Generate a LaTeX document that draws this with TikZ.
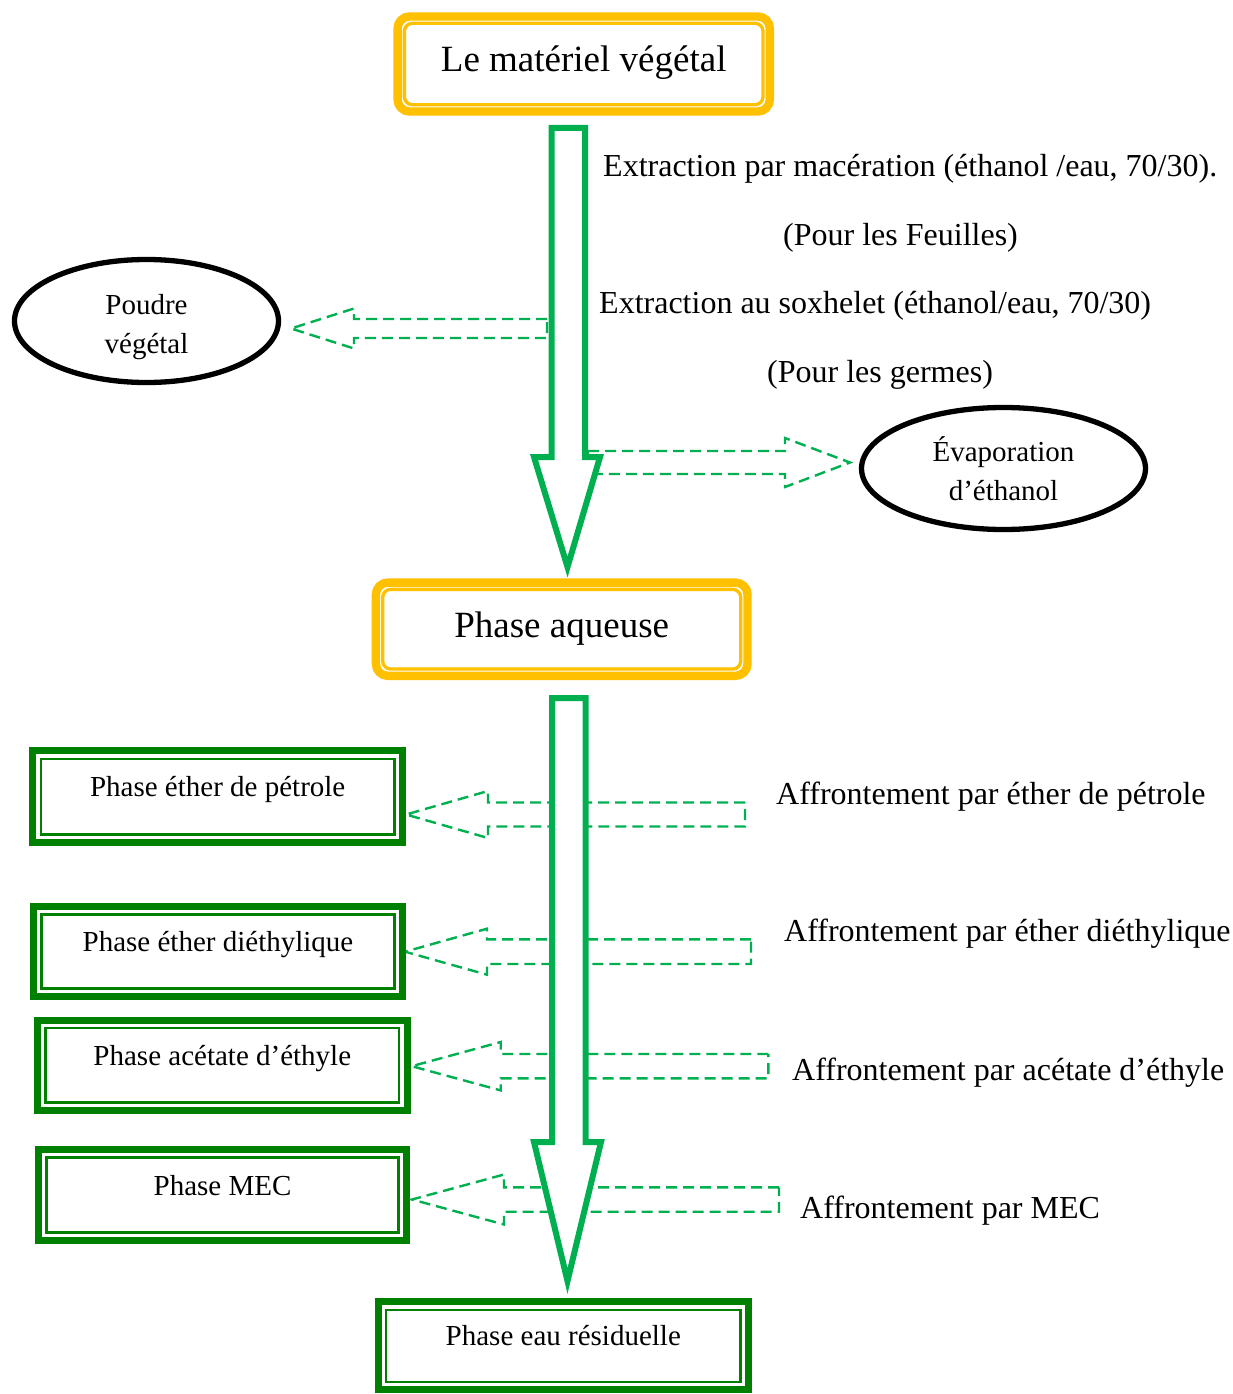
\documentclass[tikz,border=0pt]{standalone}
\usepackage{fontspec}
\setmainfont{Liberation Serif}
\usetikzlibrary{shapes.geometric,calc}

\definecolor{amber}{HTML}{FFC000}
\definecolor{leaf}{HTML}{00B050}
\definecolor{forest}{HTML}{008000}

\tikzset{
  amberbox/.style={draw=amber, line width=8.4pt, rounded corners=12pt,
    outer sep=0pt, inner sep=0pt, fill=white,
    font=\fontsize{37}{44}\selectfont, text height=26pt, text depth=10pt},
  amberinner/.style={draw=amber, line width=3.3pt, rounded corners=8pt},
  greenbox/.style={draw=forest, line width=7pt, outer sep=0pt, inner sep=0pt,
    fill=white, font=\fontsize{29}{35}\selectfont, text height=20pt, text depth=20pt},
  greeninner/.style={draw=forest, line width=2.5pt},
  oval/.style={ellipse, draw=black, line width=5.3pt, inner sep=0pt, outer sep=0pt,
    align=center, font=\fontsize{29}{39.5}\selectfont},
  note/.style={anchor=base west, inner sep=0pt, font=\fontsize{32}{38}\selectfont},
  trunk/.style={draw=leaf, line width=6pt, fill=white, line join=miter},
  hollow/.style={draw=leaf, line width=2.4pt, dash pattern=on 11pt off 6pt},
}

% inner line of a double frame, inset from the outer line
\newcommand\innerframe[3]{%
  \draw[#3] ($(#1.north west)+(#2,#2)$) rectangle ($(#1.south east)-(#2,#2)$);}

% dashed hollow block arrow: tail x, axis y, half shaft, head base x, half head, tip x
\newcommand\hollowarrow[6]{%
  \draw[hollow] (#1,#2-#3) -- (#4,#2-#3) -- (#4,#2-#5) -- (#6,#2)
    -- (#4,#2+#5) -- (#4,#2+#3) -- (#1,#2+#3) -- cycle;}

\begin{document}
\begin{tikzpicture}[x=1pt, y=-1pt]
\useasboundingbox[fill=white] (0,0) rectangle (1233,1394);

% side arrows of the extraction step
\hollowarrow{547}{328.5}{9.5}{354}{20}{291}
\hollowarrow{588}{462.5}{11.5}{785}{24.5}{850}

% side arrows of the liquid-liquid partition
\hollowarrow{745}{814.5}{12}{488}{23.5}{406}
\hollowarrow{751}{951.7}{12.3}{487}{23}{405}
\hollowarrow{768.3}{1066.2}{12.2}{500.7}{24.2}{411.7}
\hollowarrow{779}{1199.5}{12.2}{504}{25}{412}

% main flow arrows
\draw[trunk] (551.5,128) -- (585,128) -- (585,457) -- (600,457) -- (567.5,567)
  -- (534,457) -- (551.5,457) -- cycle;
\draw[trunk] (552,698) -- (585.5,698) -- (585.5,1142) -- (601,1142) -- (567.5,1281)
  -- (534,1142) -- (552,1142) -- cycle;

% orange stages
\node[amberbox, minimum width=372.3pt, minimum height=95pt] (mat) at (583.7,64)
  {Le matériel végétal};
\innerframe{mat}{6.8}{amberinner}
\node[amberbox, minimum width=371.6pt, minimum height=93.3pt] (aq) at (561.7,629.2)
  {Phase aqueuse};
\innerframe{aq}{6.8}{amberinner}

% by-products
\node[oval, minimum width=264pt, minimum height=123pt] (poudre) at (146.5,321)
  {\rule{0pt}{32pt}Poudre\\végétal};
\node[oval, minimum width=284pt, minimum height=122pt] (evap) at (1003.5,468.5)
  {Évaporation\\d’éthanol};

% fractions
\node[greenbox, minimum width=369.7pt, minimum height=91.7pt] (pet) at (217.7,796.7)
  {Phase éther de pétrole};
\innerframe{pet}{8}{greeninner}
\node[greenbox, minimum width=369pt, minimum height=90pt] (die) at (218,951.5)
  {Phase éther diéthylique};
\innerframe{die}{8}{greeninner}
\node[greenbox, minimum width=369.7pt, minimum height=90.3pt] (ace) at (222.3,1065.3)
  {Phase acétate d’éthyle};
\innerframe{ace}{8}{greeninner}
\node[greenbox, minimum width=368pt, minimum height=91pt] (mec) at (222.5,1195)
  {Phase MEC};
\innerframe{mec}{8}{greeninner}
\node[greenbox, minimum width=370.3pt, minimum height=88pt] (res) at (563.3,1345.8)
  {Phase eau résiduelle};
\innerframe{res}{8}{greeninner}

% operating conditions
\node[note] (t1) at (603,176) {Extraction par macération (éthanol /eau, 70/30).};
\node[note] (t2) at (783,245) {(Pour les Feuilles)};
\node[note] (t3) at (599,313) {Extraction au soxhelet (éthanol/eau, 70/30)};
\node[note] (t4) at (767,382) {(Pour les germes)};
\node[note] (t5) at (776,804) {Affrontement par éther de pétrole};
\node[note] (t6) at (784,941) {Affrontement par éther diéthylique};
\node[note] (t7) at (792,1080) {Affrontement par acétate d’éthyle};
\node[note] (t8) at (800,1218) {Affrontement par MEC};
\end{tikzpicture}
\end{document}
